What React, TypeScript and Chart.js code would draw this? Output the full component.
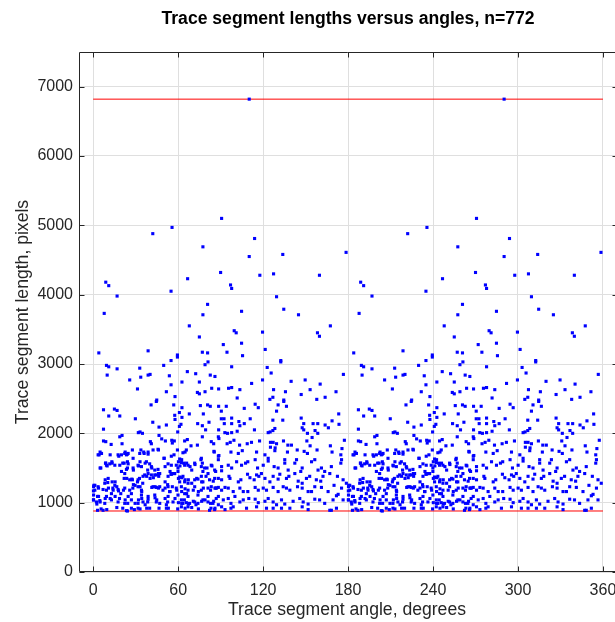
import React, { useEffect, useRef } from 'react';
import { Chart, registerables } from 'chart.js';

Chart.register(...registerables);

const TITLE = 'Trace segment lengths versus angles, n=772';
const X_LABEL = 'Trace segment angle, degrees';
const Y_LABEL = 'Trace segment length, pixels';

const xTicks = [0, 60, 120, 180, 240, 300, 360];
const yTicks = [0, 1000, 2000, 3000, 4000, 5000, 6000, 7000];

const maxLength = 6820;
const minLength = 880;

// [angle (deg, 0-180), length (px)] — each segment is also plotted at angle+180
const upperSegments = [
  [110.2, 6820], [90.7, 5100], [55.7, 4970], [42.1, 4880], [114.0, 4810], [77.5, 4690], [110.2, 4550], [133.9, 4580],
  [178.6, 4610], [90.0, 4320], [66.7, 4230], [117.7, 4280], [127.4, 4300], [159.8, 4280], [8.9, 4180], [11.0, 4130],
  [97.0, 4140], [97.8, 4090], [55.0, 4050], [16.9, 3980], [129.5, 3970], [80.8, 3860], [7.8, 3730], [77.5, 3710],
  [104.8, 3760], [134.6, 3790], [145.0, 3710], [67.9, 3550], [167.5, 3550], [75.0, 3390], [99.6, 3480], [101.0, 3450],
  [119.6, 3460], [158.4, 3450], [159.8, 3400], [91.9, 3280], [104.8, 3300], [4.0, 3160], [38.8, 3190], [77.1, 3170],
  [80.8, 3160], [94.5, 3170], [121.5, 3210], [105.5, 3120], [59.5, 3130], [59.5, 3100], [55.0, 3050], [132.5, 3050],
  [132.5, 3030], [81.1, 3030], [79.0, 2990], [97.8, 2960], [122.9, 2950], [125.7, 2870], [9.4, 2980], [11.0, 2960],
  [16.9, 2930], [32.9, 2940], [49.8, 2980], [176.7, 2850], [66.5, 2890], [72.4, 2860], [82.7, 2840], [86.0, 2820],
  [9.9, 2840], [25.8, 2770], [33.6, 2810], [38.8, 2840], [40.2, 2850], [53.8, 2830], [62.7, 2740], [75.0, 2740],
  [111.9, 2720], [119.6, 2770], [139.8, 2750], [149.7, 2770], [160.3, 2710], [55.0, 2700],
];

const band2500Segments = [
  [31.3, 2640], [51.7, 2600], [57.8, 2530], [44.9, 2480], [73.6, 2590], [75.0, 2570], [79.0, 2600], [83.7, 2650],
  [88.6, 2640], [95.6, 2650], [97.8, 2660], [103.6, 2630], [101.7, 2510], [124.8, 2490], [127.4, 2630], [126.9, 2520],
  [134.6, 2480], [135.8, 2600], [146.9, 2560], [153.2, 2630], [157.9, 2490], [163.8, 2520], [171.5, 2600],
];

const midLeftSegments = [
  [7.3, 2340], [15.0, 2350], [16.9, 2330], [11.0, 2250], [18.8, 2250], [29.8, 2210], [40.9, 2410], [44.6, 2460],
  [56.9, 2410], [57.6, 2260], [57.8, 2200], [60.9, 2300], [62.7, 2370], [62.7, 2230], [67.9, 2280], [75.7, 2400],
  [77.8, 2280], [80.8, 2410], [82.7, 2390], [88.6, 2390], [42.1, 2160], [51.7, 2120], [46.5, 2090], [62.0, 2130],
  [60.9, 2100], [59.7, 2020], [73.8, 2140], [77.1, 2110], [81.8, 2160], [79.4, 2050], [7.3, 2060], [31.9, 2010],
  [33.1, 2020], [34.8, 2000], [18.8, 1950], [20.4, 1970], [46.5, 1970], [77.1, 1950], [88.4, 1950], [88.8, 1925],
  [7.3, 1890], [8.9, 1880], [12.7, 1840], [20.4, 1850], [27.7, 1760], [33.7, 1760], [40.4, 1880], [41.1, 1850],
  [48.4, 1920], [51.0, 1890], [46.1, 1760], [55.5, 1900], [57.3, 1890], [55.9, 1860], [59.5, 1760], [64.6, 1890],
  [66.5, 1910], [69.1, 1820], [73.6, 1830], [83.4, 1880], [85.1, 1850],
];

const midRightSegments = [
  [94.0, 2390], [90.5, 2320], [106.7, 2360], [114.4, 2420], [116.6, 2370], [130.6, 2410], [129.5, 2320], [134.6, 2460],
  [136.5, 2390], [173.4, 2280], [90.5, 2210], [92.4, 2210], [97.8, 2220], [92.6, 2140], [97.8, 2140], [102.9, 2170],
  [103.6, 2110], [106.7, 2140], [110.9, 2210], [126.9, 2190], [133.9, 2190], [146.9, 2220], [148.7, 2140], [155.3, 2140],
  [158.6, 2140], [163.8, 2120], [168.7, 2180], [173.6, 2130], [166.1, 2080], [88.6, 2050], [93.0, 2010], [94.9, 2000],
  [97.8, 2010], [101.7, 2030], [113.9, 2050], [123.6, 2010], [125.0, 2020], [126.9, 2040], [128.3, 2070], [147.6, 2080],
  [148.7, 2050], [151.3, 2000], [156.7, 2040], [158.6, 2000], [94.6, 1850], [96.8, 1870], [99.4, 1900], [103.4, 1830],
  [108.8, 1850], [111.8, 1870], [117.5, 1890], [125.2, 1870], [127.1, 1870], [129.5, 1850], [125.2, 1800], [128.5, 1790],
  [134.4, 1890], [137.5, 1830], [140.0, 1830], [144.1, 1760], [150.9, 1890], [154.6, 1940], [153.2, 1820], [158.1, 1760],
  [167.5, 1820], [177.4, 1900], [175.7, 1780],
];

const lowLeftSegments = [
  [4.9, 1730], [4.2, 1690], [12.0, 1690], [18.1, 1670], [22.6, 1730], [24.2, 1700], [35.7, 1730], [38.8, 1730],
  [50.1, 1640], [64.9, 1730], [85.5, 1730], [88.4, 1670],
  [4.9, 1500], [8.9, 1570], [9.9, 1530], [13.2, 1590], [18.8, 1540], [20.9, 1570], [24.2, 1590], [24.2, 1500],
  [28.4, 1470], [32.0, 1530], [33.1, 1590], [36.7, 1570], [38.5, 1470], [41.4, 1500], [43.5, 1400], [46.1, 1420],
  [50.8, 1520], [54.3, 1450], [55.9, 1420], [60.2, 1590], [61.3, 1530], [62.5, 1620], [63.9, 1570], [66.0, 1570],
  [68.4, 1520], [69.6, 1470], [71.9, 1550], [76.1, 1620], [77.1, 1570], [80.4, 1500], [83.9, 1530], [86.5, 1450],
  [88.4, 1620],
  [8.5, 1330], [10.3, 1290], [15.5, 1300], [21.9, 1350], [23.7, 1350], [27.3, 1340], [28.4, 1260], [31.3, 1300],
  [32.7, 1350], [35.0, 1280], [37.8, 1380], [40.2, 1350], [42.5, 1360], [46.3, 1380], [50.8, 1300], [52.6, 1260],
  [55.0, 1410], [57.3, 1420], [60.2, 1350], [61.1, 1300], [62.5, 1360], [64.9, 1330], [67.2, 1330], [69.6, 1280],
  [73.1, 1350], [76.6, 1300], [79.7, 1380], [84.8, 1310], [88.4, 1350],
  [0.5, 1250], [3.8, 1210], [0.2, 1170], [10.8, 1210], [13.9, 1210], [16.7, 1230], [17.9, 1170], [21.4, 1180],
  [28.0, 1210], [29.6, 1250], [33.1, 1230], [34.3, 1160], [41.4, 1220], [43.7, 1230], [46.1, 1210], [50.8, 1210],
  [54.3, 1160], [55.9, 1230], [59.0, 1180], [62.5, 1160], [64.9, 1200], [66.0, 1130], [70.7, 1180], [74.3, 1160],
  [77.8, 1210], [82.9, 1180], [86.7, 1210],
  [3.8, 1090], [0.2, 1040], [4.9, 1010], [8.5, 1060], [12.0, 1060], [15.5, 1090], [18.6, 1060], [22.6, 1040],
  [24.4, 990], [29.6, 990], [32.0, 1040], [34.3, 1060], [36.7, 970], [38.5, 1010], [43.7, 1070], [44.9, 1040],
  [50.8, 1060], [52.6, 1010], [57.8, 1060], [60.2, 1000], [62.5, 990], [64.4, 1040], [67.2, 980], [70.7, 1020],
  [72.6, 970], [76.6, 1020], [79.0, 1040], [82.9, 990], [85.1, 1020], [88.4, 970],
  [2.6, 980], [5.6, 910], [9.6, 900], [16.7, 930], [20.9, 920], [24.2, 880], [29.1, 900], [33.1, 910],
  [37.8, 920], [46.5, 920], [53.1, 920], [59.7, 910], [64.9, 920], [69.6, 930], [74.3, 910], [83.2, 920],
];

const lowLeftExtraSegments = [
  [3.5, 1690], [5.9, 1710], [17.6, 1690], [20.0, 1690], [22.3, 1710], [23.5, 1690], [24.7, 1710], [28.2, 1640],
  [32.9, 1710], [36.0, 1710], [38.8, 1700], [42.3, 1760], [45.8, 1770], [50.1, 1640], [55.2, 1670], [57.1, 1690],
  [61.1, 1630], [63.4, 1720], [65.8, 1760], [76.4, 1640], [85.3, 1740],
  [5.4, 1500], [8.7, 1570], [9.4, 1540], [11.7, 1560], [13.4, 1570], [15.3, 1540], [21.9, 1570], [24.7, 1560],
  [23.5, 1480], [28.2, 1500], [31.7, 1540], [34.1, 1520], [37.6, 1590], [39.9, 1560], [41.1, 1520], [43.5, 1470],
  [45.8, 1480], [47.0, 1420], [52.9, 1560], [55.2, 1540], [58.7, 1540], [59.9, 1500], [62.3, 1580], [64.6, 1540],
  [67.0, 1540], [71.7, 1570], [76.4, 1520], [77.5, 1450], [78.7, 1500], [81.1, 1420], [83.4, 1540], [85.8, 1470],
  [20.0, 1450], [22.3, 1420], [25.8, 1330], [27.7, 1330], [31.7, 1330], [35.2, 1380], [36.4, 1400], [38.8, 1420],
  [41.1, 1400], [44.6, 1400], [52.9, 1380], [55.2, 1410], [57.6, 1420], [59.9, 1450], [61.1, 1370], [63.4, 1380],
  [64.6, 1300], [67.0, 1280], [71.7, 1330], [74.0, 1340], [76.4, 1380], [77.5, 1300], [82.2, 1330], [85.8, 1350],
  [10.6, 1350], [13.4, 1300], [15.3, 1250], [3.5, 1230], [1.2, 1250], [8.2, 1280],
  [0.3, 1230], [1.2, 1180], [7.0, 1190], [9.4, 1180], [14.1, 1180], [17.6, 1190], [19.5, 1130], [22.3, 1210],
  [25.8, 1180], [27.0, 1130], [31.7, 1230], [34.1, 1180], [42.3, 1230], [44.6, 1220], [47.0, 1230], [49.3, 1180],
  [52.9, 1230], [54.0, 1160], [58.7, 1210], [62.3, 1230], [64.6, 1130], [67.0, 1180], [71.7, 1230], [76.4, 1180],
  [81.1, 1210], [83.4, 1230], [86.9, 1210],
  [0.3, 1110], [3.1, 1090], [9.4, 1090], [12.9, 1130], [24.7, 1090], [34.1, 1110], [38.8, 1090], [43.5, 1110],
  [52.9, 1090], [59.9, 1110], [67.0, 1090], [74.0, 1110], [81.1, 1090], [86.9, 1060],
  [0.3, 1040], [2.3, 1010], [4.7, 1030], [8.2, 990], [12.9, 1040], [17.6, 1010], [22.3, 990], [27.0, 1040],
  [31.7, 990], [35.2, 1010], [38.8, 1050], [44.6, 1010], [47.0, 990], [51.7, 970], [56.4, 1010], [62.3, 1040],
  [63.4, 990], [65.8, 1000], [68.1, 990], [71.7, 1010], [74.0, 990], [77.5, 1040], [81.1, 1010], [84.6, 990],
  [3.1, 890], [7.0, 890], [23.5, 885], [27.0, 920], [31.7, 920], [39.9, 920], [51.7, 920], [62.3, 940],
  [67.0, 940], [82.2, 890], [85.8, 900],
];

const lowRightSegments = [
  [97.3, 1730], [102.5, 1710], [105.3, 1750], [115.4, 1730], [121.3, 1690], [128.3, 1750], [137.2, 1730], [149.0, 1740],
  [151.3, 1710], [168.7, 1730], [174.9, 1690], [88.8, 1680],
  [90.7, 1520], [90.7, 1460], [95.4, 1540], [97.8, 1500], [101.3, 1590], [104.8, 1540], [107.6, 1570], [109.2, 1590],
  [114.4, 1620], [116.1, 1500], [120.1, 1540], [123.6, 1640], [123.6, 1600], [127.8, 1520], [130.6, 1500], [135.3, 1620],
  [135.3, 1570], [137.7, 1470], [142.4, 1570], [143.6, 1620], [146.6, 1450], [147.6, 1500], [154.2, 1590], [156.5, 1620],
  [158.8, 1470], [161.2, 1500], [163.5, 1450], [168.2, 1520], [174.9, 1570], [175.4, 1620],
  [90.7, 1330], [95.9, 1380], [96.6, 1350], [102.5, 1300], [104.3, 1330], [109.0, 1410], [110.7, 1360], [113.7, 1330],
  [115.4, 1400], [117.0, 1380], [118.8, 1420], [121.3, 1350], [124.8, 1300], [127.1, 1380], [130.6, 1340], [131.8, 1410],
  [136.5, 1350], [138.2, 1380], [142.4, 1420], [144.8, 1310], [147.6, 1280], [150.6, 1350], [152.9, 1380], [157.6, 1330],
  [160.7, 1310], [162.3, 1380], [167.1, 1420], [172.5, 1380], [176.5, 1330], [178.8, 1280],
  [86.0, 1210], [88.4, 1220], [90.7, 1180], [93.1, 1220], [95.4, 1210], [98.9, 1160], [103.6, 1210], [106.0, 1160],
  [109.2, 1160], [114.4, 1220], [116.6, 1180], [120.1, 1210], [122.4, 1180], [127.1, 1220], [130.6, 1160], [134.2, 1230],
  [136.5, 1210], [138.9, 1180], [144.3, 1230], [147.6, 1210], [151.8, 1160], [154.2, 1160], [156.5, 1230], [161.2, 1220],
  [165.9, 1160], [170.1, 1250], [173.0, 1120], [175.4, 1210],
  [88.4, 1090], [91.9, 1040], [95.4, 1060], [97.3, 990], [100.1, 1090], [103.6, 1010], [106.0, 1040], [109.9, 1060],
  [114.4, 1050], [116.6, 1000], [121.3, 1020], [123.6, 1060], [127.1, 1010], [129.5, 970], [133.0, 1040], [135.3, 980],
  [141.2, 1020], [145.9, 1060], [148.3, 1010], [151.8, 980], [156.5, 1050], [159.9, 1040], [163.5, 990], [169.4, 1040],
  [171.8, 1100], [176.5, 1040],
  [86.0, 920], [90.7, 940], [93.1, 900], [97.3, 920], [98.9, 940], [108.3, 920], [115.4, 940], [122.4, 920],
  [127.1, 920], [133.0, 920], [138.9, 920], [147.6, 940], [151.8, 900], [167.1, 890], [168.2, 890], [171.8, 920],
];

const FONT = '"Liberation Sans", Arial, Helvetica, sans-serif';
const AXIS_COLOR = '#262626';

const frameAndTitle = {
  id: 'frameAndTitle',
  afterDraw(chart: any) {
    const { ctx, chartArea } = chart;
    const { left, right, top, bottom } = chartArea;
    const xs = chart.scales.x;
    const ys = chart.scales.y;
    ctx.save();
    ctx.strokeStyle = AXIS_COLOR;
    ctx.lineWidth = 1;
    const L = Math.round(left) + 0.5;
    const R = Math.round(right) + 2.5; // right box edge lies just past the canvas edge
    const T = Math.round(top) + 0.5;
    const B = Math.round(bottom) - 0.5;
    ctx.beginPath();
    ctx.moveTo(R, T); ctx.lineTo(L, T); ctx.lineTo(L, B); ctx.lineTo(R, B);
    const tl = 5;
    xTicks.forEach((v) => {
      const px = Math.round(xs.getPixelForValue(v)) + 0.5;
      ctx.moveTo(px, B); ctx.lineTo(px, B - tl);
      ctx.moveTo(px, T); ctx.lineTo(px, T + tl);
    });
    yTicks.forEach((v) => {
      const py = Math.round(ys.getPixelForValue(v)) + 0.5;
      ctx.moveTo(L, py); ctx.lineTo(L + tl, py);
      ctx.moveTo(R, py); ctx.lineTo(R - tl, py);
    });
    ctx.stroke();
    ctx.fillStyle = '#000000';
    ctx.font = `bold 17.6px ${FONT}`;
    ctx.textAlign = 'center';
    ctx.textBaseline = 'alphabetic';
    ctx.fillText(TITLE, 348, 24);
    ctx.restore();
  },
};

export default function App() {
  const canvasRef = useRef<HTMLCanvasElement | null>(null);

  useEffect(() => {
    if (!canvasRef.current) return;
    const allSegments = [
      ...upperSegments,
      ...band2500Segments,
      ...midLeftSegments,
      ...midRightSegments,
      ...lowLeftSegments,
      ...lowLeftExtraSegments,
      ...lowRightSegments,
    ];
    const points = allSegments.flatMap(([a, l]) => [
      { x: a, y: l },
      { x: a + 180, y: l },
    ]);

    const chart = new Chart(canvasRef.current, {
      type: 'scatter',
      data: {
        datasets: [
          {
            label: 'segments',
            data: points,
            pointStyle: 'rect',
            pointRadius: 2.2,
            pointBackgroundColor: '#0000ff',
            pointBorderWidth: 0,
            pointBorderColor: '#0000ff',
            showLine: false,
          },
          {
            label: 'max',
            data: [{ x: 0, y: maxLength }, { x: 360, y: maxLength }],
            showLine: true,
            borderColor: '#ff0000',
            borderWidth: 1,
            pointRadius: 0,
          },
          {
            label: 'min',
            data: [{ x: 0, y: minLength }, { x: 360, y: minLength }],
            showLine: true,
            borderColor: '#ff0000',
            borderWidth: 1,
            pointRadius: 0,
          },
        ],
      } as any,
      options: {
        responsive: false,
        animation: false,
        layout: { autoPadding: false, padding: { top: 52, left: 0, right: 0, bottom: 0 } },
        plugins: {
          legend: { display: false },
          tooltip: { enabled: false },
          title: { display: false },
        },
        scales: {
          x: {
            type: 'linear',
            min: -10,
            max: 368.5,
            afterBuildTicks: (s: any) => {
              s.ticks = xTicks.map((v) => ({ value: v }));
            },
            afterFit: (s: any) => {
              s.height = 50;
              s.paddingLeft = 0;
              s.paddingRight = 0;
            },
            grid: { color: '#dfdfdf', lineWidth: 1, drawTicks: false },
            border: { display: false },
            ticks: {
              color: AXIS_COLOR,
              font: { size: 16, family: FONT },
              padding: 9,
              maxRotation: 0,
              autoSkip: false,
              callback: (v: any) => String(v),
            },
            title: {
              display: true,
              text: X_LABEL,
              color: AXIS_COLOR,
              font: { size: 17.6, family: FONT },
              padding: { top: 0, bottom: 1 },
            },
          },
          y: {
            type: 'linear',
            min: 0,
            max: 7500,
            afterBuildTicks: (s: any) => {
              s.ticks = yTicks.map((v) => ({ value: v }));
            },
            afterFit: (s: any) => {
              s.width = 79;
              s.paddingTop = 0;
              s.paddingBottom = 0;
            },
            grid: { color: '#dfdfdf', lineWidth: 1, drawTicks: false },
            border: { display: false },
            ticks: {
              color: AXIS_COLOR,
              font: { size: 16, family: FONT },
              padding: 6,
              autoSkip: false,
              callback: (v: any) => String(v),
            },
            title: {
              display: true,
              text: Y_LABEL,
              color: AXIS_COLOR,
              font: { size: 17.6, family: FONT },
              padding: { top: 13, bottom: 0 },
            },
          },
        },
      } as any,
      plugins: [frameAndTitle],
    });
    return () => chart.destroy();
  }, []);

  return (
    <div style={{ position: 'fixed', left: 0, top: 0, width: 615, height: 622, overflow: 'hidden', background: '#ffffff' }}>
      <canvas ref={canvasRef} width={615} height={622} style={{ display: 'block', width: 615, height: 622 }} />
    </div>
  );
}
